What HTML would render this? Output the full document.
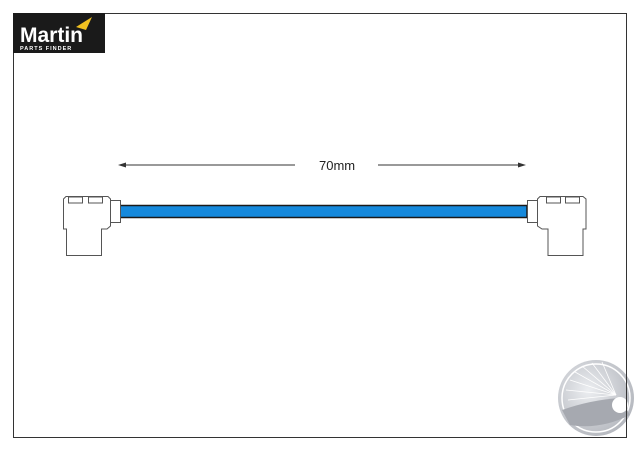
<html><body style="margin:0;background:#fff;width:640px;height:453px;overflow:hidden;position:relative;font-family:'Liberation Sans',sans-serif">
<svg width="640" height="453" style="position:absolute;left:0;top:0">
<defs><radialGradient id="g" cx="0.4" cy="0.4" r="0.7"><stop offset="0" stop-color="#eceef1"/><stop offset="1" stop-color="#b0b3ba"/></radialGradient></defs>
<circle cx="596" cy="398" r="38" fill="url(#g)"/>
<circle cx="596" cy="398" r="34" fill="none" stroke="#fff" stroke-width="1.5"/>
<g stroke="#fff" stroke-width="0.8">
<line x1="616" y1="395" x2="570" y2="380"/><line x1="616" y1="395" x2="575" y2="372"/><line x1="616" y1="395" x2="582" y2="366"/><line x1="616" y1="395" x2="592" y2="363"/><line x1="616" y1="395" x2="566" y2="390"/><line x1="616" y1="395" x2="568" y2="400"/><line x1="616" y1="395" x2="602" y2="362"/></g>
<path d="M562 410 Q590 400 620 398 L630 415 Q600 430 570 425 Z" fill="#a6a9b0"/>
<circle cx="620" cy="405" r="8" fill="#fff"/>
<rect x="13.5" y="13.5" width="613" height="424" fill="none" stroke="#333" stroke-width="1"/>
<rect x="13" y="13" width="92" height="40" fill="#1a1a1a"/>
<text x="20" y="42" fill="#fff" font-size="21" font-weight="bold">Martin</text>
<polygon points="76,27 92,17 86,30" fill="#f0c020"/>
<text x="20" y="50" fill="#fff" font-size="5.5" font-weight="bold" letter-spacing="1">PARTS FINDER</text>
<g stroke="#333" stroke-width="1"><line x1="120" y1="165" x2="295" y2="165"/><line x1="378" y1="165" x2="524" y2="165"/></g>
<polygon points="118,165 126,162.5 126,167.5" fill="#333"/><polygon points="526,165 518,162.5 518,167.5" fill="#333"/>
<text x="319" y="170" font-size="13" fill="#222">70mm</text>
<rect x="120" y="205.5" width="407" height="12" fill="#1589dc" stroke="#1a1a1a" stroke-width="1.5"/>
<g fill="#fff" stroke="#555" stroke-width="1">
<rect x="110.5" y="200.5" width="10" height="22"/>
<path d="M66 196.5 H108 L110.5 199 V226 L107 229 H101.5 V255.5 H66.5 V229 H63.5 V199 Z"/>
<rect x="68.5" y="197" width="14" height="6"/><rect x="88.5" y="197" width="14" height="6"/>
<rect x="527.5" y="200.5" width="10" height="22"/>
<path d="M540 196.5 H583 L586 199 V229 H583 V255.5 H548 V229 H542 L537.5 226 V199 Z"/>
<rect x="546.5" y="197" width="14" height="6"/><rect x="565.5" y="197" width="14" height="6"/>
</g>
</svg>
</body></html>
